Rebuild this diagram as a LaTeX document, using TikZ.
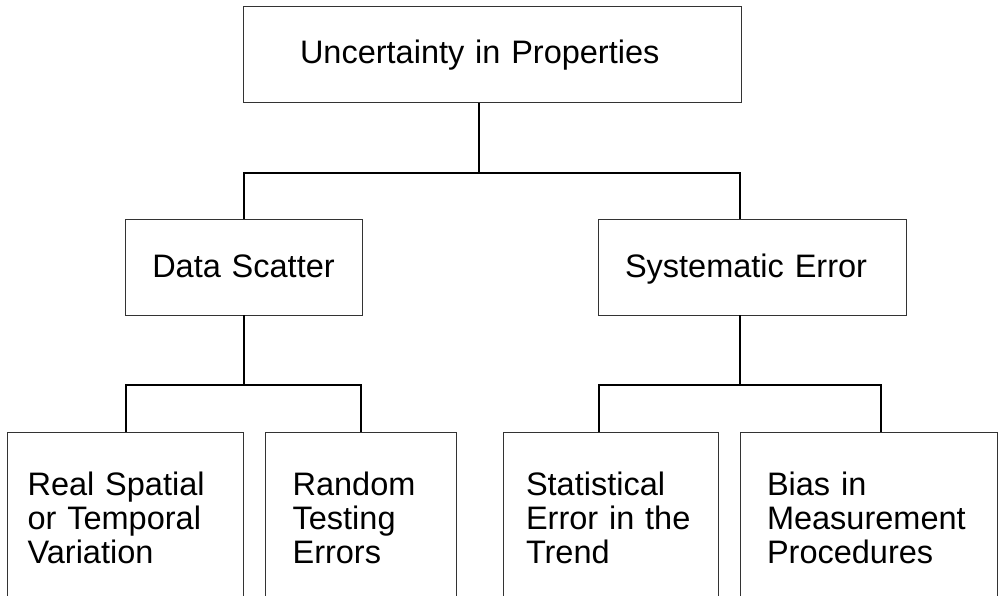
\documentclass[tikz,border=0pt]{standalone}
\usepackage{fontspec}
\setmainfont{Liberation Sans}
\usepackage{tikz}
\usetikzlibrary{positioning}

\begin{document}
\begin{tikzpicture}[
    x=1pt, y=-1pt,
    font=\fontsize{32.5}{34}\selectfont,
    box/.style={draw=black!80, line width=1pt, outer sep=0pt, anchor=north west, align=left, inner xsep=27pt},
    mid/.style={box, minimum height=96pt},
    leaf/.style={box, minimum height=172pt},
    link/.style={line width=2pt, draw=black}
  ]
    \useasboundingbox (0,0) rectangle (998,596);
    \clip (0,0) rectangle (998,596);

    \node[mid, inner xsep=57pt, text width=384pt] (root) at (243,7) {Uncertainty in Properties};
    \node[mid, align=center, text width=183pt, text height=24pt, text depth=4pt] (scatter) at (125,219) {Data Scatter};
    \node[mid, text width=254pt, text height=24pt, text depth=4pt, right=236pt of scatter] (syserr) {Systematic Error};

    \node[leaf, inner xsep=20pt, text width=196pt] (real) at (7.6,432) {Real Spatial\\or Temporal\\Variation};
    \node[leaf, text width=137pt, right=22pt of real] (random) {Random\\Testing\\Errors};
    \node[leaf, inner xsep=23pt, text width=169pt] (stat) at (503,432) {Statistical\\Error in the\\Trend};
    \node[leaf, text width=203pt, right=22pt of stat] (bias) {Bias in\\Measurement\\Procedures};

    % junctions of the tree
    \coordinate (j1) at (479,173);
    \coordinate (j2) at (243.5,385);
    \coordinate (j3) at (740,385);

    \draw[link] ([xshift=-13pt]root.south) -- (j1);
    \draw[link] (scatter.north) |- (j1) -| ([xshift=-12pt]syserr.north);
    \draw[link] (scatter.south) -- (j2);
    \draw[link] (real.north) |- (j2) -| (random.north);
    \draw[link] ([xshift=-12pt]syserr.south) -- (j3);
    \draw[link] ([xshift=-12pt]stat.north) |- (j3) -| ([xshift=12pt]bias.north);
\end{tikzpicture}
\end{document}
